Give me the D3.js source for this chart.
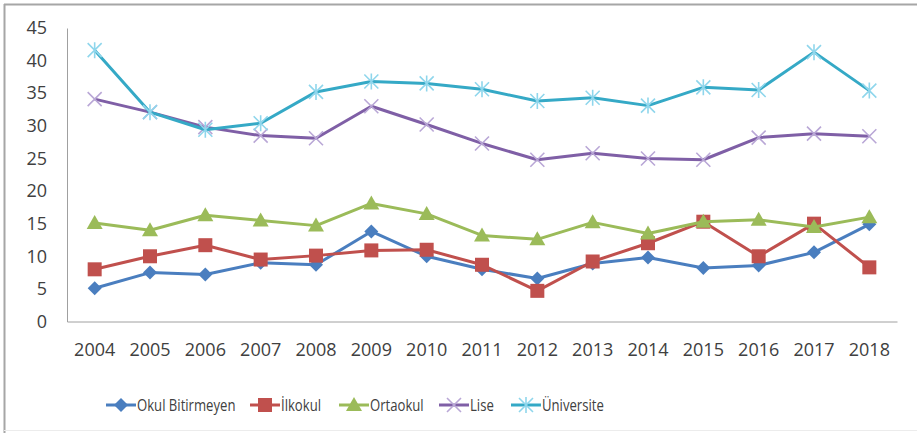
<!DOCTYPE html>
<html>
<head>
<meta charset="utf-8">
<script src="https://cdn.jsdelivr.net/npm/d3@7"></script>
<style>
  body { margin: 0; background: #fff; }
  svg text { font-family: 'Open Sans', sans-serif; fill: #404040; }
</style>
</head>
<body>
<div id="chart"></div>
<script>
let years = ['2004', '2005', '2006', '2007', '2008', '2009', '2010', '2011', '2012', '2013', '2014', '2015', '2016', '2017', '2018']
let yTicks = [0, 5, 10, 15, 20, 25, 30, 35, 40, 45]

let okulBitirmeyen = [5.1, 7.5, 7.2, 9.0, 8.7, 13.8, 10.0, 8.0, 6.6, 8.9, 9.8, 8.2, 8.6, 10.6, 14.9]
let ilkokul = [8.0, 10.0, 11.7, 9.5, 10.1, 10.9, 11.0, 8.7, 4.7, 9.2, 12.0, 15.3, 10.0, 15.0, 8.3]
let ortaokul = [15.1, 14.0, 16.3, 15.5, 14.7, 18.1, 16.5, 13.2, 12.6, 15.2, 13.5, 15.3, 15.6, 14.5, 16.0]
let lise = [34.1, 32.1, 29.8, 28.5, 28.1, 33.0, 30.2, 27.3, 24.8, 25.8, 25.0, 24.8, 28.2, 28.8, 28.4]
let universite = [41.6, 32.1, 29.4, 30.4, 35.2, 36.8, 36.5, 35.6, 33.8, 34.3, 33.1, 35.9, 35.5, 41.3, 35.4]

let seriesNames = ['Okul Bitirmeyen', 'İlkokul', 'Ortaokul', 'Lise', 'Üniversite']

let series = [
  { name: seriesNames[0], values: okulBitirmeyen, color: '#4a7ebf', marker: 'diamond', mcolor: '#4a7ebf' },
  { name: seriesNames[1], values: ilkokul, color: '#c0504d', marker: 'square', mcolor: '#c0504d' },
  { name: seriesNames[2], values: ortaokul, color: '#9bbb59', marker: 'triangle', mcolor: '#9bbb59' },
  { name: seriesNames[3], values: lise, color: '#7f5fa6', marker: 'x', mcolor: '#b9a7d6' },
  { name: seriesNames[4], values: universite, color: '#35a9c6', marker: 'star', mcolor: '#8fd6ec' }
]

let W = 917
let H = 433

let svg = d3
  .select('#chart')
  .append('svg')
  .attr('width', W)
  .attr('height', H)

// frame
svg.append('rect').attr('x', 0).attr('y', 0).attr('width', W).attr('height', H).attr('fill', '#fff')
svg.append('line').attr('x1', 4).attr('x2', W).attr('y1', 4.5).attr('y2', 4.5).attr('stroke', '#a6a6a6').attr('stroke-width', 2)
svg.append('line').attr('x1', 4.5).attr('x2', 4.5).attr('y1', 4).attr('y2', H).attr('stroke', '#a6a6a6').attr('stroke-width', 2)
svg.append('line').attr('x1', 4).attr('x2', W).attr('y1', 430.5).attr('y2', 430.5).attr('stroke', '#ececec').attr('stroke-width', 1)

let plotLeft = 67
let plotRight = 897
let plotTop = 28
let plotBottom = 321.5

let xPositionScale = d3.scaleBand().domain(years).range([plotLeft, plotRight])
let xCenter = d => xPositionScale(d) + xPositionScale.bandwidth() / 2
let yPositionScale = d3.scaleLinear().domain([0, 45]).range([plotBottom, plotTop])

// axes
let xAxis = d3.axisBottom(xPositionScale).tickSize(0).tickPadding(22)
let gx = svg
  .append('g')
  .attr('class', 'axis x-axis')
  .attr('transform', 'translate(0,' + plotBottom + ')')
  .call(xAxis)
gx.select('.domain').attr('stroke', '#a0a0a0').attr('stroke-width', 1)
gx.selectAll('text').attr('font-size', 18).attr('fill', '#404040').style('font-family', "'Open Sans', sans-serif")

let yAxis = d3.axisLeft(yPositionScale).tickValues(yTicks).tickSize(0).tickPadding(20)
let gy = svg
  .append('g')
  .attr('class', 'axis y-axis')
  .attr('transform', 'translate(' + plotLeft + ',0)')
  .call(yAxis)
gy.select('.domain').attr('stroke', '#a0a0a0').attr('stroke-width', 1)
gy.selectAll('text').attr('font-size', 18).attr('fill', '#404040').style('font-family', "'Open Sans', sans-serif")

let line = d3
  .line()
  .x((d, i) => xCenter(years[i]))
  .y(d => yPositionScale(d))

function drawMarker(g, type, color, x, y) {
  if (type === 'diamond') {
    g.append('path')
      .attr('d', `M${x},${y - 7}L${x + 7},${y}L${x},${y + 7}L${x - 7},${y}Z`)
      .attr('fill', color)
  } else if (type === 'square') {
    g.append('rect')
      .attr('x', x - 7).attr('y', y - 7).attr('width', 14).attr('height', 14)
      .attr('fill', color)
  } else if (type === 'triangle') {
    g.append('path')
      .attr('d', `M${x},${y - 8}L${x + 8},${y + 6}L${x - 8},${y + 6}Z`)
      .attr('fill', color)
  } else if (type === 'x') {
    g.append('path')
      .attr('d', `M${x - 7},${y - 7}L${x + 7},${y + 7}M${x - 7},${y + 7}L${x + 7},${y - 7}`)
      .attr('stroke', color).attr('stroke-width', 1.6).attr('fill', 'none')
  } else if (type === 'star') {
    g.append('path')
      .attr('d', `M${x - 7},${y - 7}L${x + 7},${y + 7}M${x - 7},${y + 7}L${x + 7},${y - 7}M${x},${y - 8}L${x},${y + 8}`)
      .attr('stroke', color).attr('stroke-width', 1.6).attr('fill', 'none')
  }
}

series.forEach(s => {
  let g = svg.append('g').attr('class', 'series')
  g.append('path')
    .datum(s.values)
    .attr('d', line)
    .attr('fill', 'none')
    .attr('stroke', s.color)
    .attr('stroke-width', 3)
    .attr('stroke-linejoin', 'round')
  s.values.forEach((v, i) => {
    drawMarker(g, s.marker, s.mcolor, xCenter(years[i]), yPositionScale(v))
  })
})

// legend
let legendX = [106, 250, 339, 439, 511]
let legendY = 405
series.forEach((s, i) => {
  let g = svg.append('g').attr('class', 'legend')
  let x0 = legendX[i]
  g.append('line')
    .attr('x1', x0).attr('x2', x0 + 30)
    .attr('y1', legendY).attr('y2', legendY)
    .attr('stroke', s.color).attr('stroke-width', 3)
  drawMarker(g, s.marker, s.mcolor, x0 + 15, legendY)
  // condensed look of the original legend font
  g.append('text')
    .attr('transform', 'translate(' + (x0 + 31) + ',' + legendY + ') scale(0.82,1)')
    .attr('dy', '0.35em')
    .attr('font-size', 16)
    .text(s.name)
})
</script>
</body>
</html>
